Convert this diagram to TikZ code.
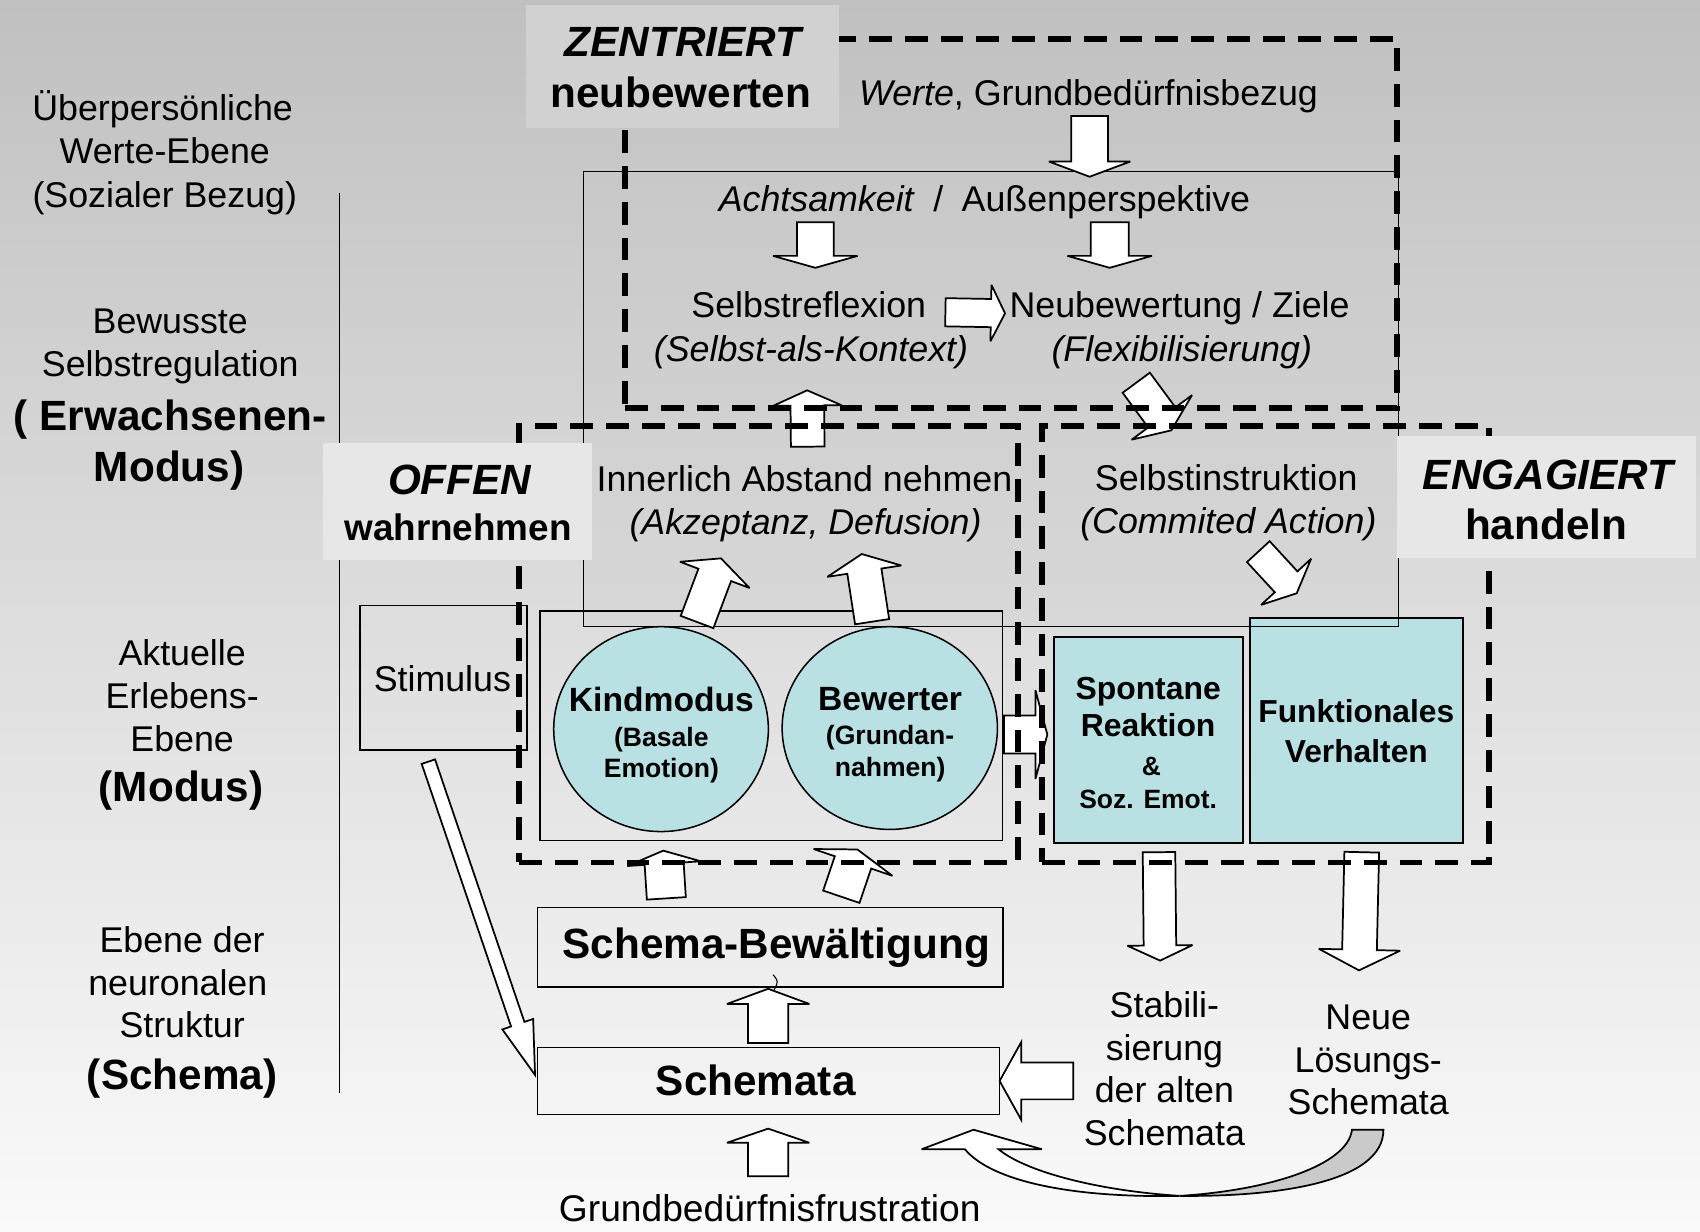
\documentclass[tikz,border=0pt]{standalone}
\usepackage{fontspec}
\setmainfont{Liberation Sans}
\usetikzlibrary{calc,shapes.geometric}
\definecolor{bgtop}{RGB}{192,192,192}
\definecolor{bgbot}{RGB}{250,250,250}
\definecolor{rtop}{RGB}{200,200,200}
\definecolor{rbot}{RGB}{216,216,216}
\definecolor{cyanf}{RGB}{185,224,227}
\definecolor{lblfill}{RGB}{231,231,231}
\definecolor{zfill}{RGB}{209,209,209}
\definecolor{ribgray}{RGB}{202,202,202}
\tikzset{
  tx/.style={anchor=base,inner sep=0pt,outer sep=0pt},
  thinln/.style={draw=black,line width=1.4pt},
  boxn/.style={draw=black,line width=1.4pt,inner sep=0pt,outer sep=0pt},
  cyanbox/.style={draw=black,line width=2pt,fill=cyanf,inner sep=0pt,outer sep=0pt},
  blk/.style={draw=black,fill=white,line width=1.6pt,line join=miter,miter limit=4},
  dashbox/.style={draw=black,line width=5.5pt,dash pattern=on 21pt off 12pt,inner sep=0pt,outer sep=0pt},
  lblbox/.style={inner sep=0pt,outer sep=0pt},
}
\newcommand\txtline[6][]{\node[tx,#1] (#2) at ({#3},{#4+0.37*#5}) {\fontsize{#5}{#5}\selectfont #6};}
\newcommand\blkarrow[6][]{%
  \coordinate (bkH) at ($(#3)!#6pt!(#2)$);
  \draw[blk,#1] ($(#2)!#4pt!90:(#3)$) -- ($(bkH)!#4pt!90:(#3)$) -- ($(bkH)!#5pt!90:(#3)$) -- (#3) -- ($(bkH)!#5pt!-90:(#3)$) -- ($(bkH)!#4pt!-90:(#3)$) -- ($(#2)!#4pt!-90:(#3)$) -- cycle;}
\begin{document}
\begin{tikzpicture}[x=1pt,y=-1pt]
\useasboundingbox (0,0) rectangle (1568,1136);
\shade[top color=bgtop,bottom color=bgbot] (0,0) rectangle (1568,1136);
% region of conscious self-regulation
\node[lblbox,shade,top color=rtop,bottom color=rbot,minimum width=752,minimum height=419.7] (thinr) at (914,368.2) {};
% left separator line
\coordinate (vl1) at (313,178);
\coordinate (vl2) at (313,1008);
\draw[thinln] (vl1) -- (vl2);
% boxes
\node[boxn,minimum width=153.8,minimum height=133.2] (stim) at (409.1,625.2) {};
\node[boxn,minimum width=426.8,minimum height=211.9] (inner) at (711.3,669.4) {};
\node[boxn,ellipse,fill=cyanf,minimum width=198,minimum height=189] (kind) at (609.7,672.5) {};
\node[boxn,ellipse,fill=cyanf,minimum width=198.6,minimum height=187] (bew) at (820.7,671.5) {};
\node[cyanbox,minimum width=175,minimum height=189.4] (spont) at (1059.3,682.5) {};
\node[cyanbox,minimum width=196.5,minimum height=207.5] (funkt) at (1251.2,673.4) {};
\draw[thinln] (thinr.south west) rectangle (thinr.north east);
\node[boxn,minimum width=429.4,minimum height=73.7] (schbew) at (710.4,873.7) {};
\node[boxn,minimum width=426.4,minimum height=61.5] (schem) at (708.9,997) {};
% block arrows
\coordinate (a1s) at (1005,107);   \coordinate (a1e) at (1005,163);
\coordinate (a2s) at (752,205);    \coordinate (a2e) at (752,247);
\coordinate (a3s) at (1023.5,205); \coordinate (a3e) at (1023.5,247);
\coordinate (a4s) at (872,288);    \coordinate (a4e) at (927,289);
\coordinate (a5s) at (745,412);    \coordinate (a5e) at (744.5,360);
\coordinate (a6s) at (1048,353);   \coordinate (a6e) at (1080.4,396.9);
\coordinate (a7s) at (1160.6,508.8); \coordinate (a7e) at (1196,547.2);
\coordinate (a8s) at (642.9,573.7); \coordinate (a8e) at (665,515);
\coordinate (a9s) at (804.4,573.4); \coordinate (a9e) at (794.8,511);
\coordinate (a10s) at (614.6,828.6); \coordinate (a10e) at (611.8,784.6);
\coordinate (a11s) at (776,827.1); \coordinate (a11e) at (790.8,783.5);
\coordinate (a12s) at (708.5,962); \coordinate (a12e) at (708.5,912);
\coordinate (a13s) at (708.5,1085); \coordinate (a13e) at (708.5,1041);
\coordinate (a14s) at (990,997);   \coordinate (a14e) at (922,997);
\coordinate (a15s) at (1069,786);  \coordinate (a15e) at (1070,886);
\coordinate (a16s) at (1256,786);  \coordinate (a16e) at (1253.5,895);
\coordinate (a17s) at (395.1,702.5); \coordinate (a17e) at (493.5,991.5);
\coordinate (a18s) at (926,677.5); \coordinate (a18e) at (966,677.5);
\blkarrow{a1s}{a1e}{17}{37.5}{14}
\blkarrow{a2s}{a2e}{17}{39}{11}
\blkarrow{a3s}{a3e}{17.5}{39}{11}
\blkarrow{a4s}{a4e}{13}{26}{13}
\blkarrow{a5s}{a5e}{15.5}{31.5}{14}
\blkarrow{a6s}{a6e}{15.6}{34.6}{14.8}
\blkarrow{a7s}{a7e}{14.2}{31.4}{14.4}
\blkarrow{a8s}{a8e}{16.1}{34.3}{16.3}
\blkarrow{a9s}{a9e}{15.9}{34.5}{16}
\blkarrow{a10s}{a10e}{18}{34}{12}
\blkarrow{a11s}{a11e}{17.7}{38.4}{12.6}
\blkarrow{a12s}{a12e}{18.5}{38}{14}
\blkarrow{a13s}{a13e}{18.5}{38}{13}
\blkarrow{a14s}{a14e}{17}{36}{20}
\blkarrow{a15s}{a15e}{15}{30}{14}
\blkarrow{a16s}{a16e}{16}{37.5}{19}
\blkarrow{a17s}{a17e}{6.5}{15}{49.5}
\blkarrow{a18s}{a18e}{17.5}{41}{11}
% curved return arrow (new solution schemata back to schemata)
\draw[blk] (921,1060) -- (961,1060) -- (898,1042) -- (850,1060) -- (890,1060)
  .. controls (915,1090) and (990,1105) .. (1088,1103)
  .. controls (1010,1098) and (945,1080) .. (921,1060) -- cycle;
\draw[blk,fill=ribgray] (1276,1042) .. controls (1276,1090) and (1180,1104) .. (1088,1103)
  .. controls (1170,1098) and (1243,1075) .. (1247,1042) -- cycle;
% small mark below Schema-Bewaeltigung
\draw[line width=1pt] (713,899) .. controls (718,905) .. (714,913);
% dashed zones
\node[dashbox,minimum width=712.2,minimum height=339.7] (zoneZ) at (932.6,206.2) {};
\node[dashbox,minimum width=459.5,minimum height=403] (zoneO) at (708.75,594) {};
\node[dashbox,minimum width=412,minimum height=403] (zoneE) at (1167,594) {};
% label boxes
\node[lblbox,fill=zfill,minimum width=288.6,minimum height=113.2] (zbox) at (629.2,61.2) {};
\node[lblbox,fill=lblfill,minimum width=248.4,minimum height=108.2] (obox) at (422.1,462.4) {};
\node[lblbox,fill=lblfill,minimum width=275.4,minimum height=113] (ebox) at (1426.2,458.5) {};
\txtline{z1}{630}{38}{39}{\bfseries\itshape ZENTRIERT}
\txtline{z2}{628}{85}{39}{\bfseries neubewerten}
\txtline{o1}{424}{442}{39}{\bfseries\itshape OFFEN}
\txtline{o2}{422.5}{486}{34}{\bfseries wahrnehmen}
\txtline{e1}{1428}{437}{39}{\bfseries\itshape ENGAGIERT}
\txtline{e2}{1426}{483}{39}{\bfseries handeln}
% left level labels
\txtline{lA1}{150}{99}{33}{Überpersönliche}
\txtline{lA2}{152}{139}{33}{Werte-Ebene}
\txtline{lA3}{152}{179}{33}{(Sozialer Bezug)}
\txtline{lB1}{157}{295}{33}{Bewusste}
\txtline{lB2}{157}{335}{33}{Selbstregulation}
\txtline{lB3}{157}{383}{39}{\bfseries ( Erwachsenen-}
\txtline{lB4}{156}{430}{39}{\bfseries Modus)}
\txtline{lC1}{168}{602}{33}{Aktuelle}
\txtline{lC2}{168}{641}{33}{Erlebens-}
\txtline{lC3}{168}{681}{33}{Ebene}
\txtline{lC4}{167}{725}{39}{\bfseries (Modus)}
\txtline{lD1}{168}{866}{33}{Ebene der}
\txtline{lD2}{164}{906}{33}{neuronalen}
\txtline{lD3}{168}{945}{33}{Struktur}
\txtline{lD4}{168}{990}{39}{\bfseries (Schema)}
% main texts
\txtline{werte}{1004}{85}{33}{\textit{Werte}, Grundbedürfnisbezug}
\txtline{achts}{908}{183}{33}{\textit{Achtsamkeit}\hspace{17pt}/\hspace{17pt}Außenperspektive}
\txtline{sr1}{746}{281}{33}{Selbstreflexion}
\txtline{sr2}{748}{321}{33}{\textit{(Selbst-als-Kontext)}}
\txtline{nb1}{1088}{281}{33}{Neubewertung / Ziele}
\txtline{nb2}{1090}{321}{33}{\textit{(Flexibilisierung)}}
\txtline{in1}{742}{441}{33}{Innerlich Abstand nehmen}
\txtline{in2}{743}{481}{33}{\textit{(Akzeptanz, Defusion)}}
\txtline{si1}{1131}{440}{33}{Selbstinstruktion}
\txtline{si2}{1133}{480}{33}{\textit{(Commited Action)}}
\txtline{stt}{408}{626}{33}{Stimulus}
\txtline{k1}{610}{645}{31}{\bfseries Kindmodus}
\txtline{k2}{610}{679}{24.5}{\bfseries (Basale}
\txtline{k3}{610}{708}{24.5}{\bfseries Emotion)}
\txtline{b1}{821}{644}{31}{\bfseries Bewerter}
\txtline{b2}{821}{678}{24.5}{\bfseries (Grundan-}
\txtline{b3}{821}{707}{24.5}{\bfseries nahmen)}
\txtline{sp1}{1059}{634}{29.4}{\bfseries Spontane}
\txtline{sp2}{1059}{668}{29.4}{\bfseries Reaktion}
\txtline{sp3}{1062}{706}{24.4}{\bfseries \&}
\txtline{sp4}{1059}{737}{24.4}{\bfseries Soz. Emot.}
\txtline{fu1}{1251}{656}{29.3}{\bfseries Funktionales}
\txtline{fu2}{1251}{692}{29.3}{\bfseries Verhalten}
\txtline{sbt}{716}{870}{39}{\bfseries Schema-Bewältigung}
\txtline{sct}{697}{996}{39}{\bfseries Schemata}
\txtline{st1}{1074}{926}{33}{Stabili-}
\txtline{st2}{1074}{966}{33}{sierung}
\txtline{st3}{1074}{1005}{33}{der alten}
\txtline{st4}{1074}{1044}{33}{Schemata}
\txtline{ne1}{1262}{937}{33}{Neue}
\txtline{ne2}{1262}{977}{33}{Lösungs-}
\txtline{ne3}{1262}{1016}{33}{Schemata}
\txtline{gbf}{710}{1114}{34.3}{Grundbedürfnisfrustration}
\end{tikzpicture}
\end{document}
